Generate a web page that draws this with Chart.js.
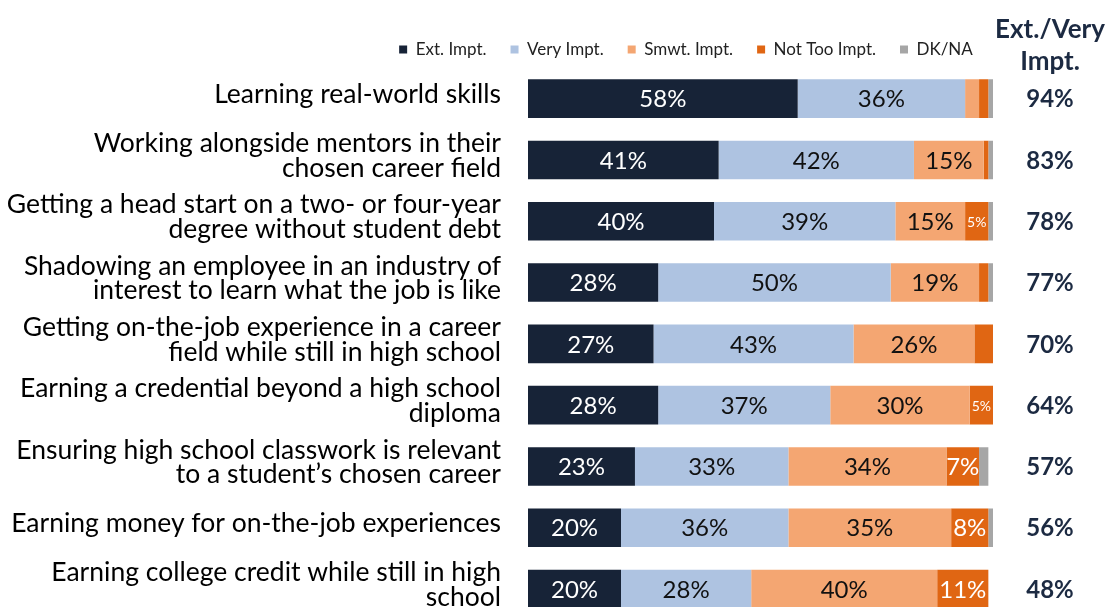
<!DOCTYPE html>
<html>
<head>
<meta charset="utf-8">
<script src="https://cdn.jsdelivr.net/npm/chart.js@4.4.1/dist/chart.umd.min.js"></script>
<style>
  html, body { margin: 0; padding: 0; background: #fff; overflow: hidden; }
  #wrap { width: 1106px; height: 659px; }
</style>
</head>
<body>
<div id="wrap"><canvas id="myChart" width="1106" height="659"></canvas></div>
<script>
// categories (multi-line labels)
var categories = [
    ['Learning real-world skills'],
    ['Working alongside mentors in their', 'chosen career field'],
    ['Getting a head start on a two- or four-year', 'degree without student debt'],
    ['Shadowing an employee in an industry of', 'interest to learn what the job is like'],
    ['Getting on-the-job experience in a career', 'field while still in high school'],
    ['Earning a credential beyond a high school', 'diploma'],
    ['Ensuring high school classwork is relevant', 'to a student\u2019s chosen career'],
    ['Earning money for on-the-job experiences'],
    ['Earning college credit while still in high', 'school']
];

var extImpt    = [58, 41, 40, 28, 27, 28, 23, 20, 20];
var veryImpt   = [36, 42, 39, 50, 43, 37, 33, 36, 28];
var smwtImpt   = [3, 15, 15, 19, 26, 30, 34, 35, 40];
var notTooImpt = [2, 1, 5, 2, 4, 5, 7, 8, 11];
var dkNa       = [1, 1, 2, 2, 0, 1, 2, 1, 0];

var extVeryTotal = [94, 83, 78, 77, 70, 64, 57, 56, 48];
var totalHeader = ['Ext./Very', 'Impt.'];

var seriesNames = ['Ext. Impt.', 'Very Impt.', 'Smwt. Impt.', 'Not Too Impt.', 'DK/NA'];
var colors = ['#172337', '#aec3e1', '#f4a672', '#e06613', '#a6a6a6'];
var labelColors = ['#ffffff', '#111111', '#111111', '#ffffff', '#111111'];

var FONT = 'Lato';

// draws the % inside each segment
var segmentLabels = {
    id: 'segmentLabels',
    afterDatasetsDraw: function (chart) {
        var ctx = chart.ctx;
        ctx.save();
        ctx.textAlign = 'center';
        ctx.textBaseline = 'middle';
        chart.data.datasets.forEach(function (ds, di) {
            var meta = chart.getDatasetMeta(di);
            meta.data.forEach(function (bar, i) {
                var v = ds.data[i];
                if (v < 5) return;
                var size = v < 6 ? 14 : 24;
                ctx.font = size + 'px ' + FONT;
                ctx.fillStyle = labelColors[di];
                ctx.fillText(v + '%', (bar.x + bar.base) / 2, bar.y + 1);
            });
        });
        ctx.restore();
    }
};

// right column with Ext./Very totals
var totalsColumn = {
    id: 'totalsColumn',
    afterDraw: function (chart) {
        var ctx = chart.ctx;
        var yScale = chart.scales.y;
        var x = 1050;
        ctx.save();
        ctx.textAlign = 'center';
        ctx.textBaseline = 'middle';
        ctx.fillStyle = '#1c2a42';
        ctx.font = 'bold 26px ' + FONT;
        ctx.fillText(totalHeader[0], x, 30);
        ctx.fillText(totalHeader[1], x, 62);
        ctx.font = 'bold 24px ' + FONT;
        extVeryTotal.forEach(function (t, i) {
            ctx.fillText(t + '%', x, yScale.getPixelForValue(i) + 1);
        });
        ctx.restore();
    }
};

// legend sits off-centre in the original, move its box
var legendShift = {
    id: 'legendShift',
    afterLayout: function (chart) {
        var lg = chart.legend;
        lg.left = 686 - 400;
        lg.right = 686 + 400;
        lg.width = 800;
    }
};

var seriesData = [extImpt, veryImpt, smwtImpt, notTooImpt, dkNa];

var ctx = document.getElementById('myChart').getContext('2d');
var myChart = new Chart(ctx, {
    type: 'bar',
    data: {
        labels: categories,
        datasets: seriesData.map(function (d, i) {
            return {
                label: seriesNames[i],
                data: d,
                backgroundColor: colors[i],
                borderWidth: 0,
                barPercentage: 0.63,
                categoryPercentage: 1
            };
        })
    },
    options: {
        indexAxis: 'y',
        responsive: false,
        animation: false,
        layout: { padding: { left: 0, right: 113, top: 17, bottom: 0 } },
        scales: {
            x: { stacked: true, min: 0, max: 100, display: false },
            y: {
                stacked: true,
                grid: { display: false, drawTicks: false },
                border: { display: false },
                ticks: {
                    color: '#000',
                    padding: 27,
                    labelOffset: -4,
                    font: { family: FONT, size: 26.5, lineHeight: 0.93 }
                },
                afterFit: function (scale) { scale.width = 528; }
            }
        },
        plugins: {
            tooltip: { enabled: false },
            legend: {
                position: 'top',
                labels: {
                    boxWidth: 8,
                    boxHeight: 8,
                    padding: 24,
                    color: '#222',
                    font: { family: FONT, size: 17 }
                }
            }
        }
    },
    plugins: [segmentLabels, totalsColumn, legendShift]
});
</script>
</body>
</html>
